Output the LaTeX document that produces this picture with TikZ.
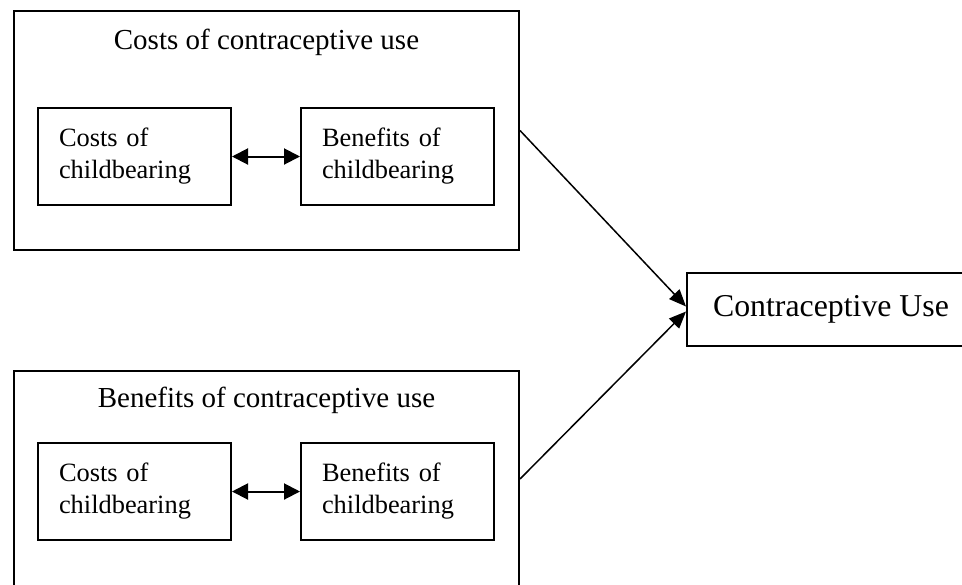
\documentclass[tikz,border=0pt]{standalone}
\usepackage{fontspec}
\setmainfont{Liberation Serif}
\usepackage{tikz}
\usetikzlibrary{positioning, arrows.meta, calc}
\tikzset{
    outernode/.style   = {draw, line width=1pt, anchor=north west, minimum width=252.5pt,
                          inner sep=0pt},
    factornode/.style  = {draw, line width=1pt, anchor=north west, minimum height=48.5pt,
                          text width=75.5pt, align=left, inner xsep=10.5pt,
                          font=\fontsize{13.2}{16}\selectfont},
    titletext/.style   = {anchor=base, inner sep=0pt, font=\fontsize{14.5}{17}\selectfont},
    outcomenode/.style = {draw, line width=1pt, anchor=west, minimum width=144pt,
                          minimum height=36.5pt, font=\fontsize{15.9}{19}\selectfont},
    edge/.style        = {-{Triangle[length=8.5pt, width=7pt]}, line width=0.75pt},
    twoway/.style      = {{Triangle[length=8pt, width=8pt]}-{Triangle[length=8pt, width=8pt]},
                          line width=1pt},
}

\begin{document}
\begin{tikzpicture}[x=0.5pt, y=-0.5pt]
\useasboundingbox (0,0) rectangle (962,584);

% costs of contraceptive use
\node[outernode, minimum height=119.5pt] (costs) at (13,10) {};
\node[titletext] (costsT) at ($(costs.north)+(0,39)$) {Costs of contraceptive use};
\node[factornode] (cc1) at (37,107) {Costs of\\childbearing};
\node[factornode, right=34pt of cc1] (bc1) {Benefits of\\childbearing};

% benefits of contraceptive use
\node[outernode, minimum height=108pt] (benefits) at (13,370) {};
\node[titletext] (benefitsT) at ($(benefits.north)+(0,37)$) {Benefits of contraceptive use};
\node[factornode] (cc2) at (37,442) {Costs of\\childbearing};
\node[factornode, right=34pt of cc2] (bc2) {Benefits of\\childbearing};

% outcome
\node[outcomenode] (use) at (686,309.5) {Contraceptive Use};

\draw[twoway] (cc1) -- (bc1);
\draw[twoway] (cc2) -- (bc2);

\draw[edge] (costs.east) -- ([yshift=1.5pt]use.west);
\draw[edge] (benefits.east) -- ([yshift=-1pt]use.west);

\end{tikzpicture}
\end{document}
